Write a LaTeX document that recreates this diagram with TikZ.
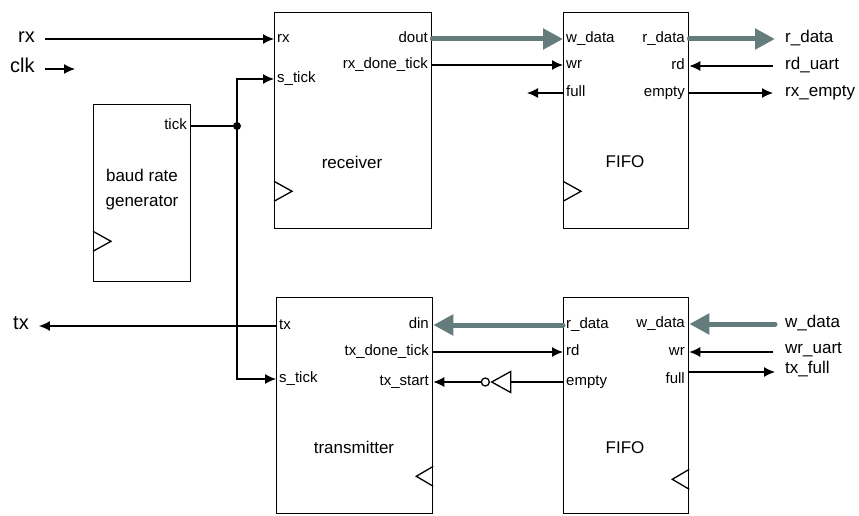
\documentclass[tikz,border=0pt]{standalone}
\usepackage{fontspec}
\setmainfont{Liberation Sans}
\usetikzlibrary{arrows.meta,calc,shapes.geometric}
\definecolor{busgray}{RGB}{100,124,124}

\begin{document}
\begin{tikzpicture}[x=1pt, y=-1pt,
	block/.style={rectangle, draw=black, line width=1.3pt, anchor=north west, inner sep=0pt},
	port/.style={font=\fontsize{15}{15}\selectfont, inner sep=0pt, text height=1.5ex, text depth=.3ex},
	ext/.style={font=\fontsize{17}{17}\selectfont, inner sep=0pt, anchor=west, text height=1.5ex, text depth=.3ex},
	big/.style={font=\fontsize{20}{20}\selectfont, inner sep=0pt, anchor=west, text height=1.5ex, text depth=.3ex},
	title/.style={font=\fontsize{17}{25}\selectfont, align=center},
	sig/.style={line width=1.3pt, -{Latex[length=11pt, width=10pt]}},
	bus/.style={line width=5pt, draw=busgray, line cap=round, -{Triangle[length=20pt, width=20pt]}},
	clock/.style={line width=1.3pt}
	]
	\useasboundingbox (0,0) rectangle (859,516);

	% blocks
	\node (baud) [block, minimum width=97pt, minimum height=177pt] at (93,104) {};
	\node (rcv) [block, minimum width=157pt, minimum height=216pt] at (274,12) {};
	\node (rfifo) [block, minimum width=125pt, minimum height=216pt] at (563,12) {};
	\node (xmt) [block, minimum width=156pt, minimum height=216pt] at (276,297) {};
	\node (tfifo) [block, minimum width=125pt, minimum height=216pt] at (563,297) {};

	\node (baudname) [title] at (142,190) {baud rate\\generator};
	\node (rcvname) [title] at (352,162) {receiver};
	\node (rfifoname) [title] at (625,162) {FIFO};
	\node (xmtname) [title] at (354,447) {transmitter};
	\node (tfifoname) [title] at (625,448) {FIFO};

	% clock marks
	\draw [clock] ($(baud.south west)+(0,-51)$) -- ++(18,10) -- ++(-18,10);
	\draw [clock] ($(rcv.south west)+(0,-48)$) -- ++(18,10) -- ++(-18,10);
	\draw [clock] ($(rfifo.south west)+(0,-48)$) -- ++(18,10) -- ++(-18,10);
	\draw [clock] ($(xmt.south east)+(0,-48)$) -- ++(-17,10) -- ++(17,10);
	\draw [clock] ($(tfifo.south east)+(0,-45)$) -- ++(-17,10) -- ++(17,10);

	% ports
	\node (baudtick) [port, anchor=east] at (187,126) {tick};
	\node (rcvrx) [port, anchor=west] at (277,39) {rx};
	\node (rcvstick) [port, anchor=west] at (277,79) {s\_tick};
	\node (rcvdout) [port, anchor=east] at (428,39) {dout};
	\node (rcvdone) [port, anchor=east] at (428,65) {rx\_done\_tick};
	\node (rfwdata) [port, anchor=west] at (566,39) {w\_data};
	\node (rfwr) [port, anchor=west] at (566,65) {wr};
	\node (rffull) [port, anchor=west] at (566,93) {full};
	\node (rfrdata) [port, anchor=east] at (685,39) {r\_data};
	\node (rfrd) [port, anchor=east] at (685,66) {rd};
	\node (rfempty) [port, anchor=east] at (685,93) {empty};
	\node (xmttx) [port, anchor=west] at (279,326) {tx};
	\node (xmtstick) [port, anchor=west] at (279,379) {s\_tick};
	\node (xmtdin) [port, anchor=east] at (429,325) {din};
	\node (xmtdone) [port, anchor=east] at (429,352) {tx\_done\_tick};
	\node (xmtstart) [port, anchor=east] at (429,382) {tx\_start};
	\node (tfrdata) [port, anchor=west] at (566,325) {r\_data};
	\node (tfrd) [port, anchor=west] at (566,352) {rd};
	\node (tfempty) [port, anchor=west] at (566,382) {empty};
	\node (tfwdata) [port, anchor=east] at (685,324) {w\_data};
	\node (tfwr) [port, anchor=east] at (685,352) {wr};
	\node (tffull) [port, anchor=east] at (685,380) {full};

	% outside signals
	\node (rxin) [big] at (18,39) {rx};
	\node (clkin) [big] at (10,69) {clk};
	\node (txout) [big] at (13,326) {tx};
	\node (rdata) [ext] at (785,39) {r\_data};
	\node (rduart) [ext] at (785,66) {rd\_uart};
	\node (rxempty) [ext] at (785,93) {rx\_empty};
	\node (wdata) [ext] at (785,324) {w\_data};
	\node (wruart) [ext] at (785,350) {wr\_uart};
	\node (txfull) [ext] at (785,370) {tx\_full};

	\coordinate (clkend) at (75,69);
	\coordinate (tj) at (237,126);
	\coordinate (fullend) at (527,93);
	\coordinate (wruartin) at (773,352);
	\coordinate (txfullend) at (775,372);

	% inverter
	\node (inv) [isosceles triangle, shape border rotate=180, isosceles triangle stretches, minimum height=19pt, minimum width=21pt, inner sep=0pt, draw, line width=1.3pt, anchor=apex] at (490,382) {};
	\node (bub) [circle, draw, line width=1.3pt, minimum size=8pt, inner sep=0pt, anchor=east] at (inv.apex) {};

	% receive side
	\draw [sig] ([xshift=10pt]rxin.east) -- (rxin -| rcv.west);
	\draw [sig] ([xshift=10pt]clkin.east) -- (clkend);
	\draw [line width=1.3pt] (baudtick -| baud.east) -- (tj);
	\fill (tj) circle (4pt);
	\draw [sig] (tj) |- (rcvstick -| rcv.west);
	\draw [sig] (tj) |- (xmtstick -| xmt.west);
	\draw [bus] (rcvdout -| rcv.east) -- (rfwdata -| rfifo.west);
	\draw [sig] (rcvdone -| rcv.east) -- (rfwr -| rfifo.west);
	\draw [sig] (rffull -| rfifo.west) -- (fullend);
	\draw [bus] (rfrdata -| rfifo.east) -- ([xshift=-10pt]rdata.west);
	\draw [sig] ([xshift=-12pt]rduart.west) -- (rfrd -| rfifo.east);
	\draw [sig] (rfempty -| rfifo.east) -- ([xshift=-12pt]rxempty.west);

	% transmit side
	\draw [sig] (xmttx -| xmt.west) -- ([xshift=10pt]txout.east);
	\draw [bus] (tfrdata -| tfifo.west) -- (xmtdin -| xmt.east);
	\draw [sig] (xmtdone -| xmt.east) -- (tfrd -| tfifo.west);
	\draw [line width=1.3pt] (tfempty -| tfifo.west) -- (inv.east);
	\draw [sig] (bub.west) -- (bub.west -| xmt.east);
	\draw [bus] ([xshift=-10pt]wdata.west) -- (tfwdata -| tfifo.east);
	\draw [sig] (wruartin) -- (wruartin -| tfifo.east);
	\draw [sig] (txfullend -| tfifo.east) -- (txfullend);

\end{tikzpicture}
\end{document}
